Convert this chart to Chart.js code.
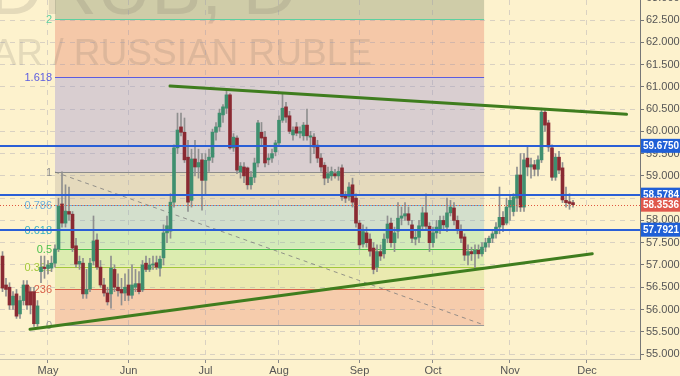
<!DOCTYPE html>
<html>
<head>
<meta charset="utf-8">
<script src="https://cdn.jsdelivr.net/npm/chart.js@4.4.1/dist/chart.umd.min.js"></script>
<style>
  html, body { margin: 0; padding: 0; background: #fdf2cd; }
  #wrap { width: 680px; height: 376px; }
</style>
</head>
<body>
<div id="wrap"><canvas id="usdrubChart" width="680" height="376"></canvas></div>
<script>
// x is a weekday index, 0 = 1 May 2017
const candleStart = -13;

const opens = [
  57.2, 56.55, 56.5, 56.1, 56.35, 55.9, 56.2, 56.55, 56.4, 56.4,
  55.68, 56.85, 56.95, 56.92, 56.93, 57.04, 57.36, 58.37, 57.94, 58.2,
  58.14, 57.43, 57.02, 57.04, 56.35, 56.46, 57.09, 57.56, 56.95, 56.55,
  56.37, 56.35, 56.9, 56.5, 56.45, 56.37, 56.55, 56.32, 56.5, 56.58,
  56.44, 57.04, 56.9, 57.0, 57.05, 56.93, 57.16, 57.72, 57.76, 58.41,
  59.63, 60.1, 59.98, 59.42, 58.45, 59.38, 59.2, 59.36, 58.9, 59.35,
  59.42, 59.98, 60.1, 60.37, 60.52, 60.82, 59.63, 59.85, 59.09, 59.2,
  59.18, 58.8, 58.97, 59.29, 59.98, 59.87, 59.36, 59.4, 59.54, 59.74,
  60.25, 60.55, 60.35, 59.92, 60.1, 59.96, 59.9, 60.14, 59.87, 59.87,
  59.69, 59.4, 59.24, 58.95, 59.0, 59.05, 59.0, 59.18, 58.55, 58.53,
  58.8, 58.5, 57.94, 57.47, 57.72, 57.58, 57.38, 56.95, 57.3, 57.25,
  57.6, 57.94, 57.5, 57.76, 58.05, 58.1, 58.15, 57.9, 57.58, 57.62,
  57.87, 58.17, 57.87, 57.5, 57.72, 57.8, 58.0, 57.85, 58.17, 58.28,
  58.0, 57.78, 57.63, 57.22, 57.3, 57.25, 57.33, 57.25, 57.4, 57.5,
  57.6, 57.7, 57.85, 58.07, 57.94, 58.3, 58.2, 58.5, 59.02, 58.3,
  59.4, 59.2, 59.25, 59.15, 59.36, 60.43, 60.19, 59.63, 58.97, 59.42,
  59.18, 58.45, 58.42, 58.4
];
const highs = [
  57.3, 56.7, 56.6, 56.4, 56.45, 56.3, 56.65, 56.65, 56.5, 56.5,
  56.2, 57.2, 57.2, 57.1, 57.2, 57.45, 58.5, 59.09, 58.8, 58.75,
  58.2, 57.6, 57.2, 57.15, 56.9, 57.15, 58.1, 57.7, 57.1, 56.7,
  56.5, 57.2, 57.0, 56.8, 56.7, 56.8, 56.9, 57.0, 56.9, 56.85,
  57.1, 57.2, 57.15, 57.2, 57.2, 57.2, 57.9, 58.1, 58.6, 59.7,
  60.41, 60.41, 60.3, 59.8, 59.6, 59.8, 59.6, 59.5, 59.5, 59.6,
  60.05, 60.2, 60.5, 60.6, 60.93, 60.85, 59.95, 59.9, 59.3, 59.3,
  59.2, 59.1, 59.4, 60.25, 60.2, 60.0, 59.5, 59.6, 59.8, 60.35,
  60.86, 60.65, 60.45, 60.1, 60.2, 60.1, 60.2, 60.5, 60.0, 59.95,
  59.8, 59.5, 59.3, 59.2, 59.2, 59.15, 59.2, 59.25, 58.65, 58.85,
  58.95, 58.6, 58.0, 57.9, 57.85, 57.7, 57.5, 57.45, 57.45, 57.7,
  58.1, 58.05, 57.85, 58.4, 58.3, 58.4, 58.3, 58.0, 57.8, 58.0,
  58.3, 58.6, 57.95, 57.85, 58.0, 58.1, 58.1, 58.5, 58.45, 58.4,
  58.1, 57.9, 57.7, 57.45, 57.4, 57.45, 57.45, 57.5, 57.6, 57.65,
  57.75, 57.95, 58.75, 58.2, 58.5, 58.55, 58.6, 59.2, 59.5, 59.5,
  59.65, 59.4, 59.35, 59.45, 60.52, 60.48, 60.25, 59.7, 59.5, 59.55,
  59.3, 58.75, 58.6, 58.45
];
const lows = [
  56.4, 56.3, 56.0, 56.0, 55.8, 55.8, 56.1, 56.0, 55.9, 55.62,
  55.62, 56.6, 56.7, 56.8, 56.85, 56.95, 57.3, 57.85, 57.85, 58.0,
  57.3, 56.95, 56.9, 56.25, 56.25, 56.4, 57.0, 56.9, 56.5, 56.3,
  56.1, 56.03, 56.4, 56.3, 56.1, 56.2, 56.2, 56.25, 56.4, 56.35,
  56.4, 56.85, 56.85, 56.9, 56.9, 56.75, 57.0, 57.5, 57.6, 58.3,
  59.5, 59.9, 59.3, 58.2, 58.3, 59.0, 58.95, 58.23, 58.6, 59.1,
  59.3, 59.8, 60.0, 60.2, 60.4, 59.6, 59.55, 59.05, 58.95, 58.85,
  58.7, 58.7, 58.85, 59.2, 59.7, 59.2, 59.25, 59.3, 59.45, 59.7,
  60.2, 60.2, 59.95, 59.8, 59.9, 59.85, 59.8, 59.8, 59.29, 59.5,
  59.3, 59.1, 58.8, 58.85, 58.9, 58.95, 58.9, 58.45, 58.4, 58.45,
  58.3, 57.85, 57.35, 57.4, 57.4, 57.2, 56.8, 56.85, 57.1, 57.15,
  57.5, 57.4, 57.3, 57.6, 57.9, 58.0, 57.9, 57.5, 57.45, 57.5,
  57.8, 57.8, 57.3, 57.4, 57.6, 57.7, 57.8, 57.75, 58.1, 57.9,
  57.7, 57.5, 57.1, 57.0, 57.1, 56.93, 57.15, 57.2, 57.3, 57.4,
  57.5, 57.6, 57.7, 57.75, 57.9, 58.0, 58.1, 58.2, 58.2, 58.2,
  59.0, 58.95, 59.0, 59.0, 59.3, 60.0, 59.55, 58.9, 58.9, 59.05,
  58.4, 58.3, 58.25, 58.3
];
const closes = [
  56.48, 56.45, 56.1, 56.3, 55.85, 56.2, 56.55, 56.1, 56.1, 55.68,
  56.08, 56.95, 56.92, 57.0, 57.04, 57.36, 58.32, 57.94, 58.21, 58.14,
  57.38, 57.02, 57.08, 56.35, 56.45, 57.04, 57.54, 56.95, 56.55, 56.37,
  56.17, 56.93, 56.5, 56.42, 56.37, 56.5, 56.32, 56.55, 56.58, 56.4,
  57.0, 56.9, 57.0, 57.02, 56.95, 57.13, 57.72, 57.88, 58.41, 59.63,
  60.03, 59.98, 59.36, 58.41, 59.38, 59.2, 59.3, 58.9, 59.35, 59.42,
  59.98, 60.1, 60.41, 60.55, 60.82, 59.63, 59.87, 59.13, 59.22, 59.0,
  58.8, 58.97, 59.29, 60.19, 59.85, 59.29, 59.4, 59.5, 59.74, 60.25,
  60.52, 60.32, 60.0, 60.03, 59.96, 60.0, 60.14, 59.9, 59.9, 59.65,
  59.4, 59.2, 58.95, 59.05, 59.1, 59.0, 59.1, 58.53, 58.5, 58.75,
  58.41, 57.94, 57.45, 57.75, 57.5, 57.31, 56.9, 57.3, 57.2, 57.58,
  57.92, 57.5, 57.72, 58.05, 58.1, 58.15, 58.0, 57.6, 57.62, 57.88,
  58.17, 57.87, 57.5, 57.72, 57.85, 58.0, 57.9, 58.17, 58.3, 58.0,
  57.78, 57.6, 57.22, 57.3, 57.25, 57.33, 57.25, 57.4, 57.5, 57.6,
  57.7, 57.85, 58.07, 57.9, 58.3, 58.45, 58.53, 59.02, 58.3, 59.36,
  59.2, 59.25, 59.15, 59.36, 60.43, 60.14, 59.65, 58.97, 59.42, 59.13,
  58.46, 58.4, 58.38, 58.3536
];

// month ticks on the weekday index
const monthIdx = [0, 23, 45, 66, 89, 110, 132, 154];
const monthLabels = ["May", "Jun", "Jul", "Aug", "Sep", "Oct", "Nov", "Dec"];
const priceTicks = [55, 55.5, 56, 56.5, 57, 57.5, 58, 58.5, 59, 59.5, 60, 60.5, 61, 61.5, 62, 62.5, 63];

// fibonacci retracement
const fibLow = 55.651;
const fibHigh = 59.087;
const fibFrom = 2;
const fibTo = 124.6;
const fibRatios = [0, 0.236, 0.382, 0.5, 0.618, 0.786, 1, 1.618, 2, 2.618];
const fibLabels = ["0", "0.236", "0.382", "0.5", "0.618", "0.786", "1", "1.618", "2"];

// horizontal levels
const levelPrices = [59.675, 58.5784, 57.7921];
const lastPrice = 58.3536;

// trend lines
const upperTrend = [{ x: 34.86, y: 61.018 }, { x: 165.3, y: 60.383 }];
const lowerTrend = [{ x: -5.14, y: 55.555 }, { x: 155.5, y: 57.252 }];

const pageBg = "#fdf2cd";
const upColor = "#3f8f6f";
const downColor = "#8a2a32";
const fibFills = ["#f6ccac", "#eaeab0", "#dcecb0", "#d4ebba", "#d3dfcc", "#e5dabd", "#d9ced0", "#f5c8a8", "#cfcca8"];
const fibLineColors = ["#9a9a9a", "#d8614a", "#a3c83c", "#4cc04c", "#36b0c0", "#6fb0da", "#8c8c8c", "#5c5ce0", "#5fd0a0"];
const tickFont = "'Liberation Sans Narrow', 'Liberation Sans', Arial, sans-serif";

const wickData = opens.map((o, k) => ({ x: candleStart + k, y: [lows[k], highs[k]] }));
const bodyData = opens.map((o, k) => ({ x: candleStart + k, y: [o, closes[k]] }));
const bodyColors = opens.map((o, k) => (closes[k] >= o ? upColor : downColor));

function fibPrice(r) {
  return fibLow + r * (fibHigh - fibLow);
}

const overlayPlugin = {
  id: "overlay",
  beforeDraw(chart) {
    const { ctx, chartArea: a, scales } = chart;
    const x = scales.x, y = scales.y;
    ctx.save();
    ctx.fillStyle = pageBg;
    ctx.fillRect(0, 0, chart.width, chart.height);
    ctx.beginPath();
    ctx.rect(a.left, a.top, a.width, a.height);
    ctx.clip();
    const x0 = x.getPixelForValue(fibFrom);
    const x1 = x.getPixelForValue(fibTo);
    for (let k = 0; k < fibRatios.length - 1; k++) {
      const yA = y.getPixelForValue(fibPrice(fibRatios[k]));
      const yB = y.getPixelForValue(fibPrice(fibRatios[k + 1]));
      ctx.fillStyle = fibFills[k];
      ctx.fillRect(x0, yB, x1 - x0, yA - yB);
    }
    // watermark
    ctx.fillStyle = "rgba(105, 100, 95, 0.17)";
    ctx.textAlign = "right";
    ctx.textBaseline = "alphabetic";
    ctx.font = "75px 'Liberation Sans', Arial, sans-serif";
    ctx.fillText("USDRUB, D", 297, 14);
    ctx.font = "37px 'Liberation Sans', Arial, sans-serif";
    ctx.fillText("US DOLLAR / RUSSIAN RUBLE", 372, 65);
    ctx.restore();
  },
  beforeDatasetsDraw(chart) {
    const { ctx, scales } = chart;
    const x = scales.x, y = scales.y;
    const x0 = x.getPixelForValue(fibFrom);
    const x1 = x.getPixelForValue(fibTo);
    ctx.save();
    ctx.lineWidth = 1;
    ctx.font = "11px 'Liberation Sans', Arial, sans-serif";
    ctx.textAlign = "right";
    ctx.textBaseline = "middle";
    fibLabels.forEach((lbl, k) => {
      const py = Math.round(y.getPixelForValue(fibPrice(fibRatios[k]))) + 0.5;
      ctx.strokeStyle = fibLineColors[k];
      ctx.beginPath();
      ctx.moveTo(x0, py);
      ctx.lineTo(x1, py);
      ctx.stroke();
      ctx.fillStyle = fibLineColors[k];
      ctx.fillText(lbl, x0 - 3, py);
    });
    // diagonal fib trend line
    ctx.strokeStyle = "rgba(125, 125, 125, 0.8)";
    ctx.setLineDash([4, 4]);
    ctx.beginPath();
    ctx.moveTo(x0, y.getPixelForValue(fibHigh));
    ctx.lineTo(x1, y.getPixelForValue(fibLow));
    ctx.stroke();
    ctx.restore();
  },
  afterDatasetsDraw(chart) {
    const { ctx, chartArea: a, scales } = chart;
    const y = scales.y;
    ctx.save();
    ctx.strokeStyle = "#2a5fd6";
    ctx.lineWidth = 2;
    levelPrices.forEach((p) => {
      const py = Math.round(y.getPixelForValue(p));
      ctx.beginPath();
      ctx.moveTo(a.left, py);
      ctx.lineTo(a.right, py);
      ctx.stroke();
    });
    ctx.strokeStyle = "#e0573f";
    ctx.lineWidth = 1;
    ctx.setLineDash([1, 2]);
    const lp = Math.round(y.getPixelForValue(lastPrice)) + 0.5;
    ctx.beginPath();
    ctx.moveTo(a.left, lp);
    ctx.lineTo(a.right, lp);
    ctx.stroke();
    ctx.restore();
  },
  afterDraw(chart) {
    const { ctx, chartArea: a, scales } = chart;
    const y = scales.y;
    ctx.save();
    ctx.font = "bold 10px " + tickFont;
    ctx.textAlign = "left";
    ctx.textBaseline = "middle";
    const tag = (p, bg, txt) => {
      const py = y.getPixelForValue(p);
      ctx.fillStyle = bg;
      ctx.fillRect(a.right + 1, py - 7, chart.width - a.right - 1, 14);
      ctx.fillStyle = "#ffffff";
      ctx.fillText(txt, a.right + 3, py + 0.5, chart.width - a.right - 4);
    };
    levelPrices.forEach((p) => tag(p, "#1f5fd6", p.toFixed(4)));
    tag(lastPrice, "#e0584c", lastPrice.toFixed(4));
    ctx.restore();
  }
};

const ctx = document.getElementById("usdrubChart").getContext("2d");

const usdrubChart = new Chart(ctx, {
  type: "bar",
  data: {
    datasets: [
      {
        type: "line",
        label: "Resistance",
        data: upperTrend,
        borderColor: "#3f7d1e",
        borderWidth: 3,
        borderCapStyle: "round",
        pointRadius: 0,
        order: 0,
      },
      {
        type: "line",
        label: "Support",
        data: lowerTrend,
        borderColor: "#3f7d1e",
        borderWidth: 3,
        borderCapStyle: "round",
        pointRadius: 0,
        order: 0,
      },
      {
        label: "Body",
        data: bodyData,
        backgroundColor: bodyColors,
        barThickness: 3,
        minBarLength: 1,
        grouped: false,
        order: 1,
      },
      {
        label: "Wick",
        data: wickData,
        backgroundColor: "#8f8f8f",
        barThickness: 1,
        grouped: false,
        order: 2,
      },
    ],
  },
  options: {
    responsive: false,
    animation: false,
    layout: { padding: 0 },
    plugins: {
      legend: { display: false },
      tooltip: { enabled: false },
    },
    scales: {
      x: {
        type: "linear",
        min: -13.714,
        max: 169.143,
        offset: false,
        grid: {
          offset: false,
          color: "rgba(150, 150, 175, 0.35)",
          tickColor: "#8a8a8a",
          tickLength: 4,
        },
        border: { color: "rgba(150, 150, 150, 0.5)", dash: [5, 5] },
        afterBuildTicks: (scale) => {
          scale.ticks = monthIdx.map((v) => ({ value: v }));
        },
        afterFit: (scale) => {
          scale.height = 17;
          scale.paddingLeft = 0;
          scale.paddingRight = 0;
        },
        ticks: {
          autoSkip: false,
          maxRotation: 0,
          padding: 1,
          color: "#555555",
          font: { family: tickFont, size: 11 },
          callback: (v, i) => monthLabels[i],
        },
      },
      y: {
        position: "right",
        min: 54.888,
        max: 62.95,
        grid: {
          color: "rgba(150, 150, 175, 0.35)",
          tickColor: "#777777",
          tickLength: 4,
        },
        border: { color: "#777777", dash: [5, 5] },
        afterBuildTicks: (scale) => {
          scale.ticks = priceTicks.map((v) => ({ value: v }));
        },
        afterFit: (scale) => {
          scale.width = 40;
          scale.paddingTop = 0;
          scale.paddingBottom = 0;
        },
        ticks: {
          padding: 2,
          color: "#555555",
          font: { family: tickFont, size: 11 },
          callback: (v) => Number(v).toFixed(4),
        },
      },
    },
  },
  plugins: [overlayPlugin],
});
</script>
</body>
</html>
